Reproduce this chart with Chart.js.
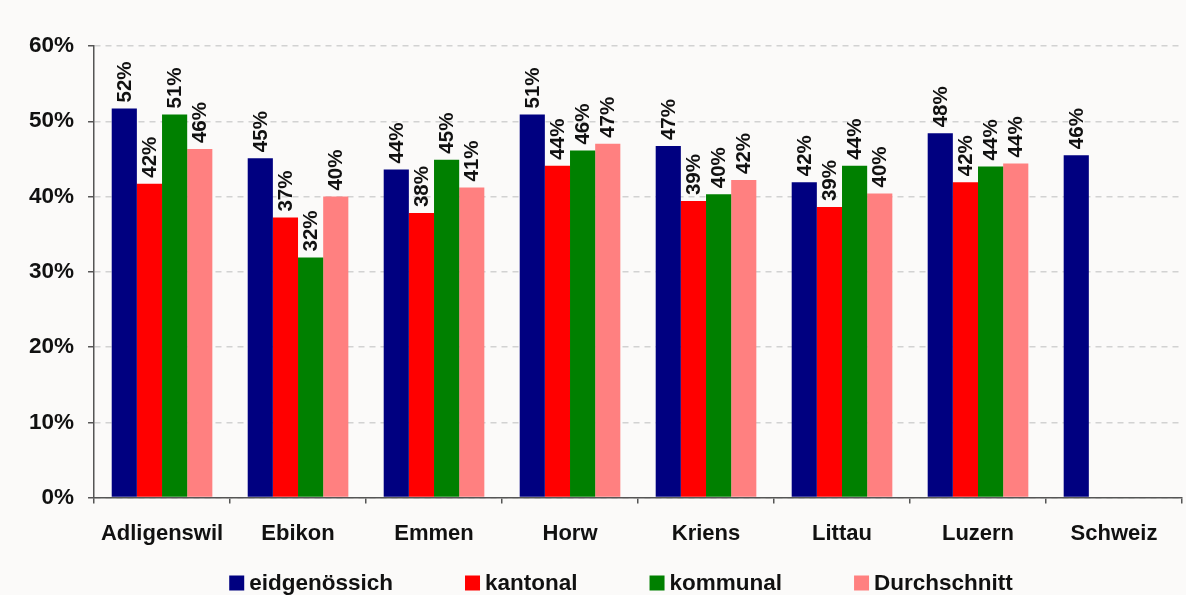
<!DOCTYPE html>
<html>
<head>
<meta charset="utf-8">
<script src="https://cdn.jsdelivr.net/npm/chart.js@4/dist/chart.umd.min.js"></script>
<style>
    html, body { margin: 0; padding: 0; background: #fbfaf9; overflow: hidden; }
    #chart { display: block; }
</style>
</head>
<body>
<canvas id="chart" width="1186" height="595"></canvas>
<script>
// Chart data (percent)
const gemeinden = ['Adligenswil', 'Ebikon', 'Emmen', 'Horw', 'Kriens', 'Littau', 'Luzern', 'Schweiz'];
const eidgenoessisch = [51.7, 45.1, 43.6, 50.9, 46.7, 41.9, 48.4, 45.5];
const kantonal = [41.7, 37.2, 37.8, 44.1, 39.4, 38.6, 41.9, null];
const kommunal = [50.9, 31.9, 44.9, 46.1, 40.3, 44.1, 44.0, null];
const durchschnitt = [46.3, 40.0, 41.2, 47.0, 42.2, 40.4, 44.4, null];
const yTicks = [0, 10, 20, 30, 40, 50, 60];

const FONT = '"Liberation Sans", Arial, sans-serif';
const DARK = '#555555';

// Rotated value labels above each bar
const valueLabels = {
    id: 'valueLabels',
    afterDatasetsDraw(chart) {
        const ctx = chart.ctx;
        ctx.save();
        ctx.fillStyle = '#111';
        ctx.font = 'bold 20.5px ' + FONT;
        ctx.textAlign = 'left';
        ctx.textBaseline = 'middle';
        chart.data.datasets.forEach((ds, i) => {
            const meta = chart.getDatasetMeta(i);
            meta.data.forEach((bar, j) => {
                const v = ds.data[j];
                if (v === null || v === undefined) return;
                ctx.save();
                ctx.translate(bar.x, bar.y - 6);
                ctx.rotate(-Math.PI / 2);
                ctx.fillText(Math.round(v) + '%', 0, 1);
                ctx.restore();
            });
        });
        ctx.restore();
    }
};

// Legend at the bottom, spaced like the original
const bottomLegend = {
    id: 'bottomLegend',
    afterDraw(chart) {
        const ctx = chart.ctx;
        const area = chart.chartArea;
        ctx.save();
        ctx.font = 'bold 22.5px ' + FONT;
        ctx.textBaseline = 'middle';
        ctx.textAlign = 'left';
        const box = 15, gapText = 5, gapItem = 72;
        const items = chart.data.datasets.map(ds => ({ text: ds.label, color: ds.backgroundColor }));
        let total = 0;
        items.forEach((it, i) => {
            it.w = ctx.measureText(it.text).width;
            total += box + gapText + it.w + (i < items.length - 1 ? gapItem : 0);
        });
        let x = (area.left + area.right) / 2 - total / 2 - 17;
        const y = 583;
        items.forEach(it => {
            ctx.fillStyle = it.color;
            ctx.fillRect(x, y - box / 2, box, box);
            ctx.fillStyle = '#111';
            ctx.fillText(it.text, x + box + gapText, y + 1);
            x += box + gapText + it.w + gapItem;
        });
        ctx.restore();
    }
};

const bgPlugin = {
    id: 'bg',
    beforeDraw(chart) {
        const ctx = chart.ctx;
        ctx.save();
        ctx.fillStyle = '#fbfaf9';
        ctx.fillRect(0, 0, chart.width, chart.height);
        ctx.restore();
    }
};

function initChart() {
    const ctx = document.getElementById('chart').getContext('2d');
    new Chart(ctx, {
        type: 'bar',
        data: {
            labels: gemeinden,
            datasets: [{
                label: 'eidgenössich',
                data: eidgenoessisch,
                backgroundColor: '#000080'
            }, {
                label: 'kantonal',
                data: kantonal,
                backgroundColor: '#ff0000'
            }, {
                label: 'kommunal',
                data: kommunal,
                backgroundColor: '#008000'
            }, {
                label: 'Durchschnitt',
                data: durchschnitt,
                backgroundColor: '#ff8080'
            }]
        },
        options: {
            responsive: false,
            animation: false,
            datasets: {
                bar: {
                    categoryPercentage: 0.74,
                    barPercentage: 1.0,
                    borderWidth: 0
                }
            },
            layout: {
                padding: { top: 46, left: 15, right: 4, bottom: 31 }
            },
            plugins: {
                legend: { display: false },
                tooltip: { enabled: false }
            },
            scales: {
                x: {
                    grid: {
                        offset: true,
                        drawOnChartArea: false,
                        tickLength: 6,
                        tickColor: DARK,
                        lineWidth: 1.5
                    },
                    border: { color: DARK, width: 1.5 },
                    ticks: {
                        color: '#111',
                        padding: 17,
                        font: { family: FONT, size: 22, weight: 'bold' }
                    }
                },
                y: {
                    min: yTicks[0],
                    max: yTicks[yTicks.length - 1],
                    afterBuildTicks: axis => {
                        axis.ticks = yTicks.map(v => ({ value: v }));
                    },
                    grid: {
                        color: '#d2d2d2',
                        lineWidth: 1.5,
                        tickLength: 6,
                        tickColor: DARK,
                        tickBorderDash: []
                    },
                    border: { color: DARK, width: 1.5, dash: [6, 5] },
                    ticks: {
                        color: '#111',
                        padding: 14,
                        font: { family: FONT, size: 22.5, weight: 'bold' },
                        callback: v => v + '%'
                    }
                }
            }
        },
        plugins: [bgPlugin, valueLabels, bottomLegend]
    });
}

initChart();
</script>
</body>
</html>
